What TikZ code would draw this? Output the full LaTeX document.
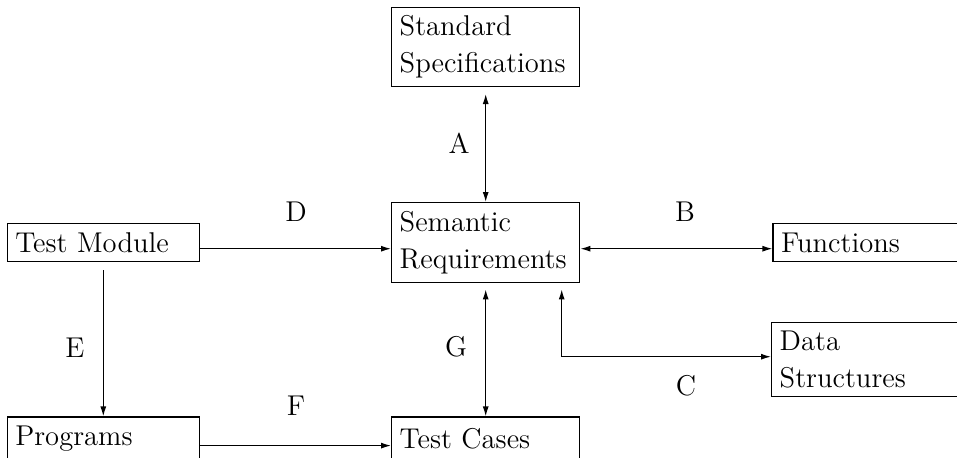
\documentclass[tikz,border=0pt]{standalone}
\usepackage{tikz}
\usetikzlibrary{positioning, arrows.meta}

\tikzset{
  blk/.style={draw, line width=0.7pt, inner xsep=4pt, inner ysep=0pt, align=left,
    font=\fontsize{14.3}{18.5}\selectfont},
  lbl/.style={font=\fontsize{14.3}{18.5}\selectfont},
  link/.style={line width=0.6pt, -{Latex[length=5pt,width=3pt]}},
  dlink/.style={line width=0.6pt, {Latex[length=5pt,width=3pt]}-{Latex[length=5pt,width=3pt]}},
}

\begin{document}
\begin{tikzpicture}[x=1pt, y=1pt]
\useasboundingbox (0,0) rectangle (478.5,-228.5);
\clip (0,0) rectangle (478.5,-228.5);
\node[blk, text width=86pt, minimum height=40pt, anchor=north west] (sem) at (195.5,-101) {Semantic\\Requirements};
\node[blk, text width=86pt, minimum height=39.5pt, above=57.5pt of sem] (spec) {Standard\\Specifications};
\node[blk, text width=88pt, minimum height=19pt, left=95.5pt of sem] (mod) {Test Module};
\node[blk, text width=91pt, minimum height=19pt, right=96pt of sem] (func) {Functions};
\node[blk, text width=91pt, minimum height=37pt, anchor=north west] (data) at (385.5,-161) {Data\\Structures};
\node[blk, text width=88pt, minimum height=21.5pt, below=77pt of mod] (prog) {Programs};
\node[blk, text width=86pt, minimum height=21.5pt, right=95.5pt of prog] (cases) {Test Cases};

\draw[dlink] ([yshift=-3.5pt]spec.south) -- (sem.north);
\draw[link] ([yshift=-3pt]mod.east) -- ([yshift=-3pt]sem.west);
\draw[dlink] ([yshift=-3pt]sem.east) -- ([yshift=-3pt]func.west);
\draw[dlink] ([xshift=38pt,yshift=-3pt]sem.south) |- ([yshift=1.5pt]data.west);
\draw[dlink] ([yshift=-3pt]sem.south) -- (cases.north);
\draw[link] ([yshift=-4pt]mod.south) -- (prog.north);
\draw[link] ([yshift=-3.5pt]prog.east) -- ([yshift=-3.5pt]cases.west);

% edge letters
\node[lbl] (la) at (229.5,-71.5) {A};
\node[lbl] (lb) at (342.5,-106) {B};
\node[lbl] (lc) at (343,-193) {C};
\node[lbl] (ld) at (148,-106) {D};
\node[lbl] (le) at (37.5,-174) {E};
\node[lbl] (lf) at (148,-203) {F};
\node[lbl] (lg) at (228,-173.5) {G};
\end{tikzpicture}
\end{document}
